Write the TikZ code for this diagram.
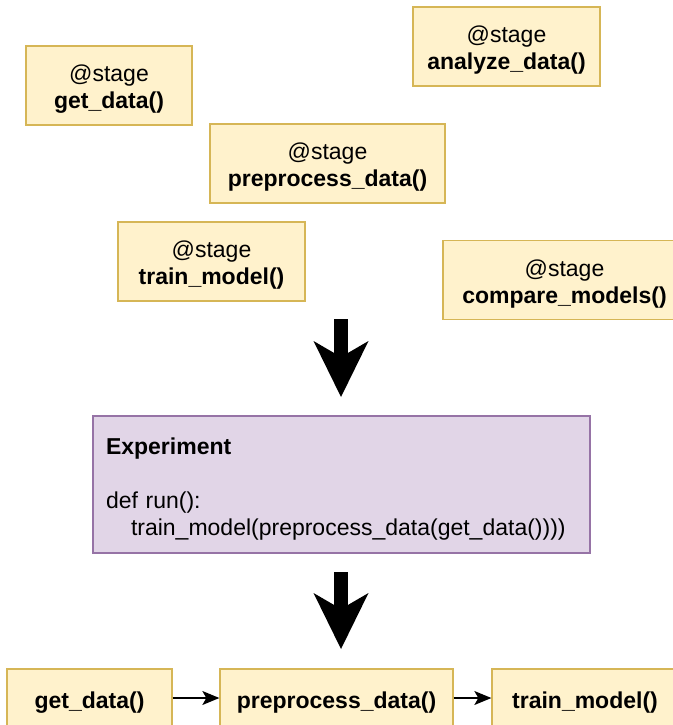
\documentclass[tikz,border=0pt]{standalone}
\usepackage{fontspec}
\setmainfont{Liberation Sans}
\usetikzlibrary{arrows.meta}
\definecolor{yfill}{HTML}{FFF2CC}
\definecolor{ydraw}{HTML}{D6B656}
\definecolor{pfill}{HTML}{E1D5E7}
\definecolor{pdraw}{HTML}{9673A6}
\newcommand\myup[1]{\rule{0pt}{#1}}
\begin{document}
\begin{tikzpicture}[x=1pt,y=-1pt,
  txt/.style={font=\fontsize{23}{27}\selectfont},
  stagebox/.style={txt, draw=ydraw, fill=yfill, line width=1.3pt, inner sep=0pt, align=center, minimum height=79pt},
  flowbox/.style={txt, draw=ydraw, fill=yfill, line width=1.3pt, inner sep=0pt, align=center, minimum height=58pt, font=\fontsize{23}{27}\selectfont\bfseries},
  expbox/.style={txt, draw=pdraw, fill=pfill, line width=1.3pt, inner xsep=13pt, inner ysep=0pt, align=left, minimum height=137pt},
  smallarrow/.style={line width=1.3pt, -{Stealth[length=17pt,width=14pt,inset=4pt]}},
  bigarrow/.style={line width=14pt, -{Stealth[length=56pt,width=55pt,inset=16pt,line width=0pt]}}
]
\useasboundingbox (0,0) rectangle (672,725);

% stage boxes
\node[stagebox, minimum width=166pt] (s1) at (109,85.5) {\myup{24pt}@stage\\\textbf{get\_data()}};
\node[stagebox, minimum width=187pt] (s2) at (506.5,46.5) {\myup{24pt}@stage\\\textbf{analyze\_data()}};
\node[stagebox, minimum width=235pt] (s3) at (327.5,163.5) {\myup{24pt}@stage\\\textbf{preprocess\_data()}};
\node[stagebox, minimum width=187pt] (s4) at (211.5,261.5) {\myup{24pt}@stage\\\textbf{train\_model()}};
\node[stagebox, minimum width=243pt] (s5) at (564.5,280) {\myup{24pt}@stage\\\textbf{compare\_models()}};

% first big arrow
\coordinate (a1s) at (341,319);
\coordinate (a1e) at (341,397);
\draw[bigarrow] (a1s) -- (a1e);

% experiment
\node[expbox, text width=471pt] (exp) at (341.5,484.5)
  {\myup{25pt}\textbf{Experiment}\\\mbox{}\\def run():\\\hspace*{25pt}train\_model(preprocess\_data(get\_data())))};

% second big arrow
\coordinate (a2s) at (341,572);
\coordinate (a2e) at (341,649);
\draw[bigarrow] (a2s) -- (a2e);

% bottom flow
\node[flowbox, minimum width=165pt] (b1) at (89.5,698) {\myup{26pt}get\_data()};
\node[flowbox, minimum width=233pt] (b2) at (336.5,698) {\myup{26pt}preprocess\_data()};
\node[flowbox, minimum width=186pt] (b3) at (585,698) {\myup{26pt}train\_model()};
\draw[smallarrow] (b1.east) -- (b2.west);
\draw[smallarrow] (b2.east) -- (b3.west);
\end{tikzpicture}
\end{document}
